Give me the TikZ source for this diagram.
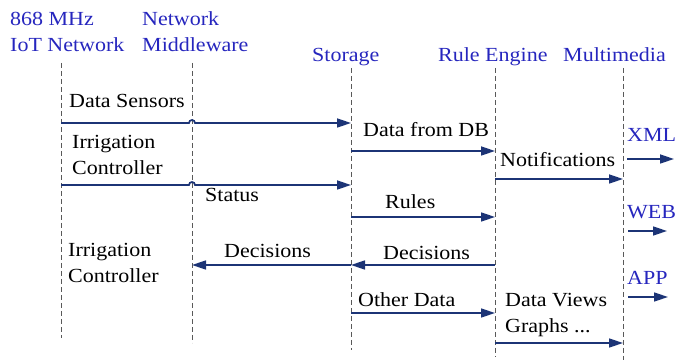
\documentclass[tikz,border=0pt]{standalone}
\usepackage{fontspec}
\setmainfont{Liberation Serif}[FakeStretch=1.1]
\usetikzlibrary{arrows.meta}
\definecolor{hdblue}{RGB}{38,38,190}
\definecolor{msgnavy}{RGB}{28,52,118}
\begin{document}
\begin{tikzpicture}[x=1pt,y=-1pt,
    lbl/.style={anchor=base west,inner sep=0pt,align=left,font=\fontsize{20}{26}\selectfont},
    hd/.style={lbl,text=hdblue},
    life/.style={draw=black!65,line width=0.9pt,dash pattern=on 5pt off 3pt},
    msg/.style={draw=msgnavy,line width=1.7pt,-{Triangle[length=14pt,width=9pt]}}]
  \useasboundingbox (0,0) rectangle (675,363);
  % heads (base = last line)
  \node[hd] (iotH) at (10,52) {868 MHz\\IoT Network};
  \node[hd] (mwH) at (142,52) {Network\\Middleware};
  \node[hd] (stoH) at (312,62) {Storage};
  \node[hd] (ruleH) at (438,62) {Rule Engine};
  \node[hd] (mmH) at (563,62) {Multimedia};
  % lifelines
  \coordinate (iotT) at (61,63);  \coordinate (iotB) at (61,338);
  \coordinate (mwT) at (192,63);  \coordinate (mwB) at (192,343);
  \coordinate (stoT) at (351,68); \coordinate (stoB) at (351,350);
  \coordinate (ruleT) at (495,68); \coordinate (ruleB) at (495,357);
  \coordinate (mmT) at (623,68);  \coordinate (mmB) at (623,360);
  \draw[life] (iotT) -- (iotB);
  \draw[life] (mwT) -- (mwB);
  \draw[life] (stoT) -- (stoB);
  \draw[life] (ruleT) -- (ruleB);
  \draw[life] (mmT) -- (mmB);
  % rows
  \coordinate (r1) at (0,123);
  \coordinate (r2) at (0,151);
  \coordinate (r3) at (0,185);
  \coordinate (r4) at (0,179);
  \coordinate (r6) at (0,217);
  \coordinate (r8) at (0,265);
  \coordinate (r10) at (0,313);
  \coordinate (r11) at (0,343);
  \coordinate (xmlE) at (674,159);
  \coordinate (webE) at (667,231);
  \coordinate (appE) at (668,297);
  % messages
  \draw[msg] (iotT |- r1) -- ([xshift=-3pt]mwT |- r1) arc[start angle=180,end angle=0,radius=3pt] -- (stoT |- r1);
  \draw[msg] (stoT |- r2) -- (ruleT |- r2);
  \draw[msg] (iotT |- r3) -- ([xshift=-3pt]mwT |- r3) arc[start angle=180,end angle=0,radius=3pt] -- (stoT |- r3);
  \draw[msg] (ruleT |- r4) -- (mmT |- r4);
  \draw[msg] ([xshift=4pt]mmT |- xmlE) -- (xmlE);
  \draw[msg] (stoT |- r6) -- (ruleT |- r6);
  \draw[msg] ([xshift=5pt]mmT |- webE) -- (webE);
  \draw[msg] (ruleT |- r8) -- (stoT |- r8);
  \draw[msg] (stoT |- r8) -- (mwT |- r8);
  \draw[msg] (stoT |- r10) -- (ruleT |- r10);
  \draw[msg] (ruleT |- r11) -- (mmT |- r11);
  \draw[msg] ([xshift=5pt]mmT |- appE) -- (appE);
  % labels (base = last line)
  \node[lbl] (sens) at (69,108) {Data Sensors};
  \node[lbl] (fromdb) at (363,137) {Data from DB};
  \node[lbl] (irr1) at (72,175) {Irrigation\\Controller};
  \node[lbl] (stat) at (205,202) {Status};
  \node[lbl] (notif) at (500,167) {Notifications};
  \node[hd] (xml) at (627,142) {XML};
  \node[lbl] (rules) at (385,209) {Rules};
  \node[hd] (web) at (627,219) {WEB};
  \node[lbl] (dec1) at (383,260) {Decisions};
  \node[lbl] (dec2) at (224,258) {Decisions};
  \node[lbl] (irr2) at (68,283) {Irrigation\\Controller};
  \node[lbl] (other) at (358,307) {Other Data};
  \node[lbl] (views) at (505,333) {Data Views\\Graphs ...};
  \node[hd] (app) at (627,285) {APP};
\end{tikzpicture}
\end{document}
